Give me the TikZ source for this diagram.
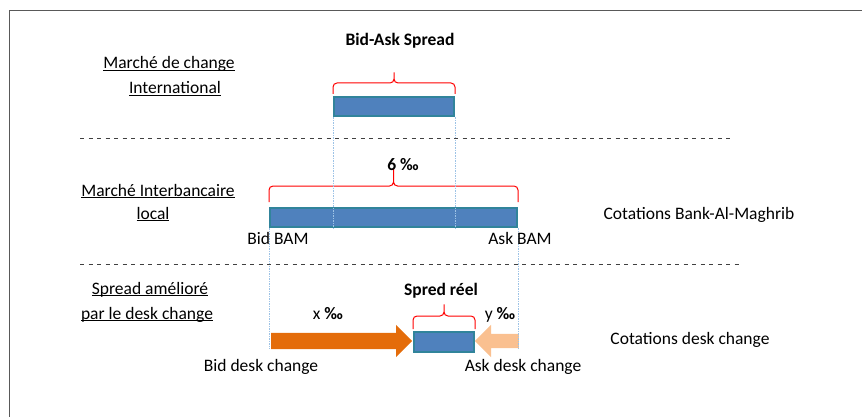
\documentclass[tikz,border=0pt]{standalone}
\usepackage{fontspec}
\setmainfont{Carlito}
\usetikzlibrary{shapes.arrows}

\definecolor{barblue}{HTML}{4F81BD}
\definecolor{barteal}{HTML}{31849B}
\definecolor{bidorange}{HTML}{E46C0A}
\definecolor{askorange}{HTML}{FAC090}
\definecolor{guideblue}{HTML}{9DC3E6}
\definecolor{framegray}{HTML}{595959}

\newcommand{\souligne}[1]{\underline{\smash{#1}}}
% accolade au-dessus d'une barre: noeud, ecart, hauteur du trait, hauteur de la pointe
\newcommand{\accolade}[4]{%
    \draw[brace] ([yshift=#2]#1.north west) |- ([yshift=#2+#3]#1.north) coordinate (milieu)
        -- ([yshift=#2+#4]#1.north) -- (milieu) -| ([yshift=#2]#1.north east);}

\begin{document}
\begin{tikzpicture}[x=1pt,y=-1pt,
        font=\fontsize{17.5}{20}\selectfont,
        bar/.style={draw=barteal,line width=2pt,fill=barblue,inner sep=0pt},
        txt/.style={anchor=base,inner sep=0pt},
        brace/.style={draw=red,line width=1pt,rounded corners=4pt},
        deskarrow/.style={single arrow,inner xsep=0pt,inner ysep=8pt,text height=0pt,
            text depth=0pt,minimum width=32pt,anchor=tail},
        separator/.style={draw=black!75,dash pattern=on 4pt off 4.5pt,line width=0.8pt},
        guide/.style={draw=guideblue,dash pattern=on 1.5pt off 1pt,line width=0.7pt}]
    \useasboundingbox (0,0) rectangle (862,417);
    % cadre
    \draw[framegray,line width=1pt] (9,417) -- (9,11) -- (862,11);

    % barres
    \node[bar,minimum width=120pt,minimum height=19pt] (intl) at (394,107) {};
    \node[bar,minimum width=247pt,minimum height=19pt] (bam) at (393.5,217.5) {};
    \node[bar,minimum width=60pt,minimum height=20pt] (reel) at (444,342) {};

    % fleches desk change
    \node[deskarrow,fill=bidorange,minimum height=141pt,single arrow head extend=8pt]
        (bid) at (271,341) {};
    \node[deskarrow,fill=askorange,minimum height=44pt,single arrow head extend=9pt,
        inner ysep=7pt,shape border rotate=180] (ask) at (519,341) {};
    \coordinate (pied) at (0,349);

    % accolades
    \accolade{intl}{2.5pt}{11pt}{24pt}
    \accolade{bam}{5pt}{16pt}{36pt}
    \accolade{reel}{2pt}{13pt}{27pt}

    % reperes
    \draw[guide] (intl.south west) -- (intl.south west |- bam.south);
    \draw[guide] (intl.south east) -- (intl.south east |- bam.south);
    \draw[guide] (bam.south west) -- (bam.south west |- pied);
    \draw[guide] (bam.south east) -- (bam.south east |- pied);

    % separateurs
    \draw[separator] (80,138) -- (732,138);
    \draw[separator] (80,264) -- (741,264);

    % textes
    \node[txt] (titre) at (400,45.5) {\textbf{Bid-Ask Spread}};
    \node[txt] (marche) at (169,69) {\souligne{Marché de change}};
    \node[txt] (inter) at (175,94) {\souligne{International}};
    \node[txt] (sixpm) at (403,171) {\textbf{6 ‰}};
    \node[txt] (interb) at (158,196) {\souligne{Marché Interbancaire}};
    \node[txt] (local) at (153,219) {\souligne{local}};
    \node[txt] (cotbam) at (699,219) {Cotations Bank-Al-Maghrib};
    \node[txt] (bidbam) at (278,244) {Bid BAM};
    \node[txt] (askbam) at (520,244) {Ask BAM};
    \node[txt] (ameliore) at (150,294) {\souligne{Spread amélioré}};
    \node[txt] (pardesk) at (147,319) {\souligne{par le desk change}};
    \node[txt] (spred) at (441,295) {\textbf{Spred réel}};
    \node[txt] (xpm) at (328,319) {x \textbf{‰}};
    \node[txt] (ypm) at (500,319) {y \textbf{‰}};
    \node[txt] (cotdesk) at (690,344) {Cotations desk change};
    \node[txt] (biddesk) at (261,371) {Bid desk change};
    \node[txt] (askdesk) at (523,371) {Ask desk change};
\end{tikzpicture}
\end{document}
